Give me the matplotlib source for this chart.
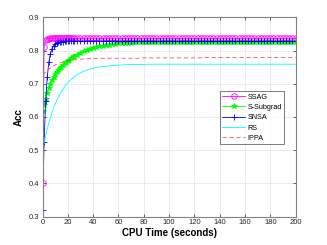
import matplotlib
matplotlib.use("Agg")
import matplotlib.pyplot as plt

plt.rcParams['font.family'] = ['Liberation Sans', 'DejaVu Sans']

time_s = [0, 1.25, 2.5, 3.75, 5, 6.25, 7.5, 8.75, 10, 11.25, 12.5, 13.75, 15, 16.25, 17.5, 18.75, 20, 21.25, 22.5, 23.75, 25,
          27.5, 30, 32.5, 35, 37.5, 40, 42.5, 45, 47.5, 50,
          52.5, 55, 57.5, 60, 62.5, 65, 67.5, 70, 72.5, 75,
          77.5, 80, 82.5, 85, 87.5, 90, 92.5, 95, 97.5, 100,
          102.5, 105, 107.5, 110, 112.5, 115, 117.5, 120, 122.5, 125,
          127.5, 130, 132.5, 135, 137.5, 140, 142.5, 145, 147.5, 150,
          152.5, 155, 157.5, 160, 162.5, 165, 167.5, 170, 172.5, 175,
          177.5, 180, 182.5, 185, 187.5, 190, 192.5, 195, 197.5, 200]

ssag = [0.400, 0.810, 0.832, 0.835, 0.836, 0.837, 0.837, 0.837, 0.837, 0.837, 0.837, 0.837, 0.837, 0.837, 0.837, 0.837, 0.837, 0.837, 0.837, 0.837, 0.837,
        0.837, 0.837, 0.837, 0.837, 0.837, 0.837, 0.837, 0.837, 0.837, 0.837,
        0.837, 0.837, 0.837, 0.837, 0.837, 0.837, 0.837, 0.837, 0.837, 0.837,
        0.837, 0.837, 0.837, 0.837, 0.837, 0.837, 0.837, 0.837, 0.837, 0.837,
        0.837, 0.837, 0.837, 0.837, 0.837, 0.837, 0.837, 0.837, 0.837, 0.837,
        0.837, 0.837, 0.837, 0.837, 0.837, 0.837, 0.837, 0.837, 0.837, 0.837,
        0.837, 0.837, 0.837, 0.837, 0.837, 0.837, 0.837, 0.837, 0.837, 0.837,
        0.837, 0.837, 0.837, 0.837, 0.837, 0.837, 0.837, 0.837, 0.837, 0.837]

s_subgrad = [0.617, 0.637, 0.655, 0.672, 0.687, 0.700, 0.711, 0.721, 0.728, 0.735, 0.741, 0.747, 0.752, 0.757, 0.762, 0.766, 0.770, 0.773, 0.777, 0.780, 0.783,
             0.788, 0.793, 0.798, 0.801, 0.805, 0.807, 0.810, 0.813, 0.815, 0.817,
             0.818, 0.820, 0.821, 0.822, 0.823, 0.823, 0.824, 0.824, 0.825, 0.825,
             0.825, 0.825, 0.825, 0.826, 0.826, 0.826, 0.826, 0.826, 0.826, 0.826,
             0.826, 0.826, 0.826, 0.826, 0.826, 0.826, 0.826, 0.826, 0.826, 0.826,
             0.826, 0.826, 0.826, 0.826, 0.826, 0.826, 0.826, 0.826, 0.826, 0.826,
             0.826, 0.826, 0.826, 0.826, 0.826, 0.826, 0.826, 0.826, 0.826, 0.826,
             0.826, 0.826, 0.826, 0.826, 0.826, 0.826, 0.826, 0.826, 0.826, 0.826]

snsa = [0.320, 0.526, 0.649, 0.721, 0.765, 0.790, 0.806, 0.815, 0.820, 0.823, 0.825, 0.826, 0.827, 0.827, 0.828, 0.828, 0.828, 0.828, 0.828, 0.828, 0.828,
        0.828, 0.828, 0.828, 0.828, 0.828, 0.828, 0.828, 0.828, 0.828, 0.828,
        0.828, 0.828, 0.828, 0.828, 0.828, 0.828, 0.828, 0.828, 0.828, 0.828,
        0.828, 0.828, 0.828, 0.828, 0.828, 0.828, 0.828, 0.828, 0.828, 0.828,
        0.828, 0.828, 0.828, 0.828, 0.828, 0.828, 0.828, 0.828, 0.828, 0.828,
        0.828, 0.828, 0.828, 0.828, 0.828, 0.828, 0.828, 0.828, 0.828, 0.828,
        0.828, 0.828, 0.828, 0.828, 0.828, 0.828, 0.828, 0.828, 0.828, 0.828,
        0.828, 0.828, 0.828, 0.828, 0.828, 0.828, 0.828, 0.828, 0.828, 0.828]

rs = [0.500, 0.523, 0.544, 0.564, 0.582, 0.598, 0.613, 0.626, 0.639, 0.650, 0.660, 0.669, 0.677, 0.685, 0.691, 0.698, 0.703, 0.708, 0.713, 0.717, 0.721,
      0.728, 0.733, 0.738, 0.741, 0.744, 0.747, 0.749, 0.751, 0.752, 0.753,
      0.754, 0.755, 0.756, 0.756, 0.757, 0.757, 0.758, 0.758, 0.758, 0.758,
      0.758, 0.758, 0.759, 0.759, 0.759, 0.759, 0.759, 0.759, 0.759, 0.759,
      0.759, 0.759, 0.759, 0.759, 0.759, 0.759, 0.759, 0.759, 0.759, 0.759,
      0.759, 0.759, 0.759, 0.759, 0.759, 0.759, 0.759, 0.759, 0.759, 0.759,
      0.759, 0.759, 0.759, 0.759, 0.759, 0.759, 0.759, 0.759, 0.759, 0.759,
      0.759, 0.759, 0.759, 0.759, 0.759, 0.759, 0.759, 0.759, 0.759, 0.759]

ippa = [0.727, 0.731, 0.735, 0.739, 0.744, 0.748, 0.751, 0.754, 0.757, 0.759, 0.761, 0.763, 0.764, 0.766, 0.767, 0.768, 0.769, 0.770, 0.771, 0.771, 0.772,
        0.773, 0.774, 0.775, 0.775, 0.776, 0.776, 0.776, 0.777, 0.777, 0.777,
        0.777, 0.777, 0.777, 0.777, 0.777, 0.777, 0.777, 0.777, 0.777, 0.777,
        0.778, 0.778, 0.778, 0.778, 0.778, 0.778, 0.778, 0.778, 0.778, 0.778,
        0.778, 0.778, 0.778, 0.778, 0.778, 0.778, 0.778, 0.778, 0.778, 0.778,
        0.779, 0.779, 0.779, 0.779, 0.779, 0.779, 0.779, 0.779, 0.779, 0.779,
        0.779, 0.779, 0.779, 0.779, 0.779, 0.779, 0.779, 0.779, 0.779, 0.779,
        0.779, 0.779, 0.779, 0.779, 0.779, 0.779, 0.779, 0.779, 0.779, 0.779]

x_ticks = [0, 20, 40, 60, 80, 100, 120, 140, 160, 180, 200]
y_ticks = [0.3, 0.4, 0.5, 0.6, 0.7, 0.8, 0.9]
labels = ['SSAG', 'S-Subgrad', 'SNSA', 'RS', 'IPPA']

fig = plt.figure(figsize=(3.27, 2.45), dpi=100)
ax = fig.add_axes([0.130, 0.116, 0.774, 0.813])

ax.plot(time_s, ssag, color='#ff00ff', lw=0.6, marker='o', ms=4.0, mfc='none', mew=0.6, label=labels[0])
ax.plot(time_s, s_subgrad, color='#00ff00', lw=0.6, marker='*', ms=4.0, mew=0.6, label=labels[1])
ax.plot(time_s, snsa, color='#0000ff', lw=0.6, marker='+', ms=4.4, mew=0.6, label=labels[2])
ax.plot(time_s, rs, color='#00ffff', lw=0.6, label=labels[3])
ax.plot(time_s, ippa, color='#ff3030', lw=0.5, ls=(0, (6, 4)), label=labels[4])

ax.set_xlim(0, 200)
ax.set_ylim(0.3, 0.9)
ax.set_xticks(x_ticks)
ax.set_yticks(y_ticks)
ax.set_xticklabels([str(v) for v in x_ticks])
ax.set_yticklabels(['%.1f' % v for v in y_ticks])
ax.tick_params(direction='in', length=2.5, width=0.5, labelsize=5.5, colors='#262626',
               top=True, right=True, pad=2)
ax.grid(True, color='#e3e3e3', lw=0.5)
ax.set_axisbelow(True)
for s in ax.spines.values():
    s.set_color('#808080')
    s.set_linewidth(0.8)

ax.set_xlabel('CPU Time (seconds)', fontsize=7, fontweight='bold', labelpad=1)
ax.set_ylabel('Acc', fontsize=7, fontweight='bold', labelpad=4)

leg = ax.legend(loc='upper left', bbox_to_anchor=(0.70, 0.63), fontsize=5.2, frameon=True,
                fancybox=False, edgecolor='#404040', handlelength=3.2, handletextpad=0.3,
                borderpad=0.35, labelspacing=0.45, borderaxespad=0)
leg.get_frame().set_linewidth(0.6)

fig.savefig('out.png', dpi=100)
